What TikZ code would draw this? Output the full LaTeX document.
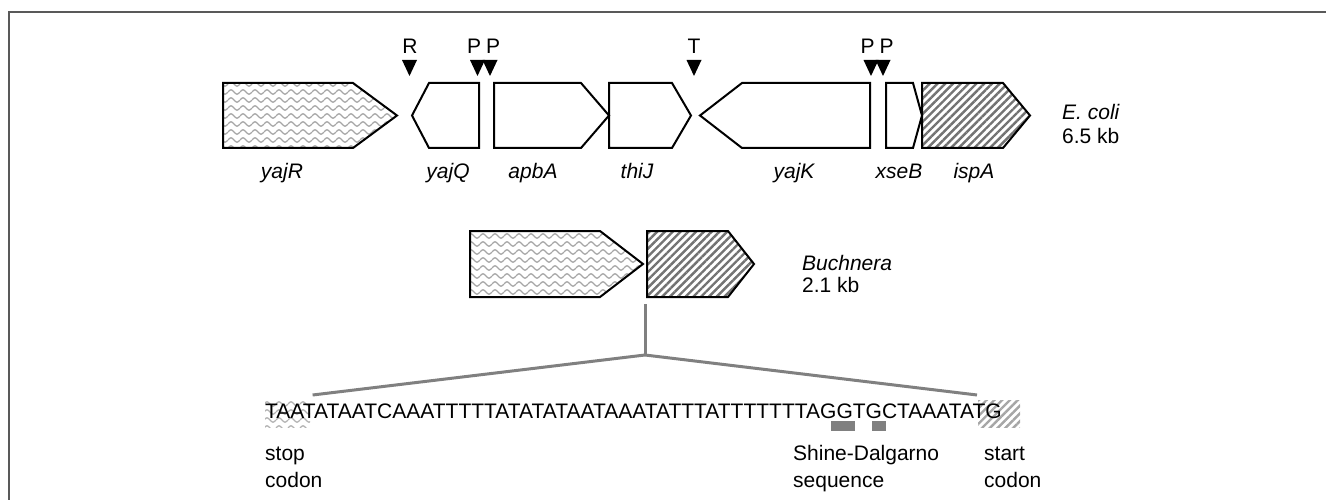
\documentclass[tikz,border=0pt]{standalone}
\usepackage{fontspec}
\setmainfont{Liberation Sans}
\usepackage{tikz}
\usetikzlibrary{
    patterns,
    patterns.meta
}
\tikzdeclarepattern{
    name=waves,
    type=uncolored,
    bottom left={(0pt,-4pt)},
    top right={(12pt,4pt)},
    tile size={(12pt,8pt)},
    code={
        \tikzset{x=1pt,y=1pt}
        \draw[line width=1.3pt] (0,0) sin (3,2.2) cos (6,0) sin (9,-2.2) cos (12,0);
    }
}

\begin{document}
\begin{tikzpicture}[x=1pt, y=-1pt,
    every node/.style={font=\fontsize{21}{25}\selectfont, inner sep=0pt},
    gene/.style={draw, line width=2pt, line join=miter},
    wavy/.style={gene, pattern=waves, pattern color=black!35},
    striped/.style={gene, pattern={Lines[angle=45,distance=5.5pt,line width=2.4pt]}, pattern color=black!55},
    genename/.style={anchor=base, font=\fontsize{21}{25}\selectfont\itshape},
    link/.style={draw=black!50, line width=3pt},
    frame/.style={draw=black!65, line width=2pt}
]
            \useasboundingbox (0,0) rectangle (1326,500);
            \draw[frame] (9,500) |- (1326,11.7);

            \draw[wavy] (223,83) -- (353,83) -- (397,115.5) -- (353,148) -- (223,148) -- cycle;
            \draw[gene] (479,83) -- (429,83) -- (412,115.5) -- (429,148) -- (479,148) -- cycle;
            \draw[gene] (494,83) -- (581,83) -- (609,115.5) -- (581,148) -- (494,148) -- cycle;
            \draw[gene] (609,83) -- (672,83) -- (691,115.5) -- (672,148) -- (609,148) -- cycle;
            \draw[gene] (870,83) -- (742,83) -- (700,115.5) -- (742,148) -- (870,148) -- cycle;
            \draw[gene] (886,83) -- (913,83) -- (922,115.5) -- (913,148) -- (886,148) -- cycle;
            \draw[striped] (922,83) -- (1003,83) -- (1030,115.5) -- (1003,148) -- (922,148) -- cycle;

            \foreach \x in {409.5, 477.5, 490, 694, 871, 883}
                \fill (\x-7.5,60) -- (\x+7.5,60) -- (\x,76) -- cycle;

            \node (siteR) at (410,46) {R};
            \node (siteP1) at (474,46) {P};
            \node (siteP2) at (493,46) {P};
            \node (siteT) at (694,46) {T};
            \node (siteP3) at (867.5,46) {P};
            \node (siteP4) at (886.5,46) {P};

            \node[genename] (yajR) at (282,178.5) {yajR};
            \node[genename] (yajQ) at (448,178.5) {yajQ};
            \node[genename] (apbA) at (533,178.5) {apbA};
            \node[genename] (thiJ) at (637,178.5) {thiJ};
            \node[genename] (yajK) at (794,178.5) {yajK};
            \node[genename] (xseB) at (899,178.5) {xseB};
            \node[genename] (ispA) at (974,178.5) {ispA};

            \node[anchor=base west] (ecoli) at (1062,119.5) {\itshape E. coli};
            \node[anchor=base west] (ecolisize) at (1062,143.5) {6.5 kb};

            \draw[wavy] (470,231) -- (600,231) -- (643,264) -- (600,297) -- (470,297) -- cycle;
            \draw[striped] (647,231) -- (728,231) -- (754,264) -- (728,297) -- (647,297) -- cycle;

            \node[anchor=base west] (buchnera) at (802,270.5) {\itshape Buchnera};
            \node[anchor=base west] (buchnerasize) at (802,292) {2.1 kb};

            \coordinate (stem) at (645,304);
            \coordinate (split) at (645,355);
            \coordinate (seqL) at (312.6,395);
            \coordinate (seqR) at (977,395);
            \draw[link] (stem) -- (split);
            \draw[link] (split) -- (seqL);
            \draw[link] (split) -- (seqR);

            \path[pattern=waves, pattern color=black!30] (265,400) rectangle (310,427);
            \path[pattern={Lines[angle=45,distance=5.5pt,line width=2.4pt]}, pattern color=black!35] (978,400) rectangle (1020,427);
            \fill[black!50] (831,421) rectangle (855,431);
            \fill[black!50] (872,421) rectangle (886,431);

            \node[anchor=base west] (seq) at (265,418) {TAATATAATCAAATTTTTATATATAATAAATATTTATTTTTTTAGGTGCTAAATATG};

            \node[anchor=base west] (stop1) at (265,460) {stop};
            \node[anchor=base west] (stop2) at (265,487) {codon};
            \node[anchor=base west] (sd1) at (793,460) {Shine-Dalgarno};
            \node[anchor=base west] (sd2) at (793,487) {sequence};
            \node[anchor=base west] (start1) at (984,460) {start};
            \node[anchor=base west] (start2) at (984,487) {codon};
\end{tikzpicture}
\end{document}
